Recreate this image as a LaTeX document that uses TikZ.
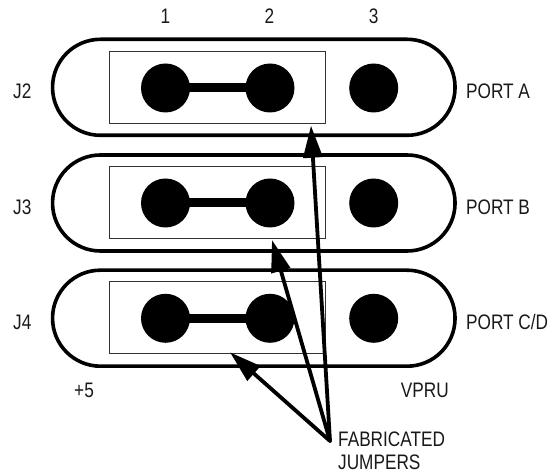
\documentclass[tikz,border=0pt]{standalone}
\usepackage{fontspec}
\setmainfont[FakeStretch=0.82]{Liberation Sans}
\usetikzlibrary{arrows.meta}
\tikzset{
  x=1pt,y=-1pt,
  pill/.style={draw=black,line width=3.6pt,minimum width=402.5pt,minimum height=96pt,rounded corners=47.9pt,inner sep=0pt},
  frame/.style={draw=black!80,line width=1.1pt,minimum width=216.5pt,minimum height=72pt,inner sep=0pt},
  pin/.style={circle,fill=black,minimum size=49pt,inner sep=0pt},
  bar/.style={line width=9pt},
  lead/.style={line width=3.8pt,line cap=round,-{Triangle[length=32pt,width=19pt]}},
  lab/.style={font=\fontsize{21pt}{23pt}\selectfont,text=black!90,inner sep=0pt},
}
\begin{document}
\begin{tikzpicture}
\useasboundingbox (0,0) rectangle (550,473);
% connector housings
\foreach \n/\y in {A/87.3,B/203,C/318.2}{
  \node[pill] (pill\n) at (253.8,\y) {};
}
\node[frame] (frA) at (217.6,87.7) {};
\node[frame] (frB) at (217.6,202.6) {};
\node[frame] (frC) at (217.6,317.9) {};
% pins
\node[pin] (a1) at (165.5,88) {};
\node[pin] (a2) at (270,88) {};
\node[pin] (a3) at (373.7,88) {};
\node[pin] (b1) at (165.5,203) {};
\node[pin] (b2) at (270,203) {};
\node[pin] (b3) at (373.7,203) {};
\node[pin] (c1) at (165.5,318.3) {};
\node[pin] (c2) at (270,318.3) {};
\node[pin] (c3) at (373.7,318.3) {};
% jumpers
\draw[bar] (a1.center) -- (a2.center);
\draw[bar] (b1.center) -- (b2.center);
\draw[bar] (c1.center) -- (c2.center);
% labels
\node[lab,anchor=base] (n1) at (165.5,24) {1};
\node[lab,anchor=base] (n2) at (269.5,24) {2};
\node[lab,anchor=base] (n3) at (373.7,24) {3};
\node[lab,anchor=base west] (j2) at (13,99) {J2};
\node[lab,anchor=base west] (j3) at (13,214.5) {J3};
\node[lab,anchor=base west] (j4) at (13,330) {J4};
\node[lab,anchor=base west] (pa) at (466,99) {PORT A};
\node[lab,anchor=base west] (pb) at (466,214.5) {PORT B};
\node[lab,anchor=base west] (pc) at (466,330) {PORT C/D};
\node[lab,anchor=base west] (p5) at (74,397.5) {+5};
\node[lab,anchor=base west] (vp) at (400.7,397.5) {VPRU};
\node[lab,anchor=base west] (fa) at (338,446.5) {FABRICATED};
\node[lab,anchor=base west] (ju) at (338,470) {JUMPERS};
% leaders
\coordinate (src) at (330,441);
\coordinate (tA) at (311,125.7);
\coordinate (tB) at (272,240);
\coordinate (tC) at (230,352.3);
\draw[lead] (src) -- (tA);
\draw[lead] (src) -- (tB);
\draw[lead] (src) -- (tC);
\end{tikzpicture}
\end{document}
